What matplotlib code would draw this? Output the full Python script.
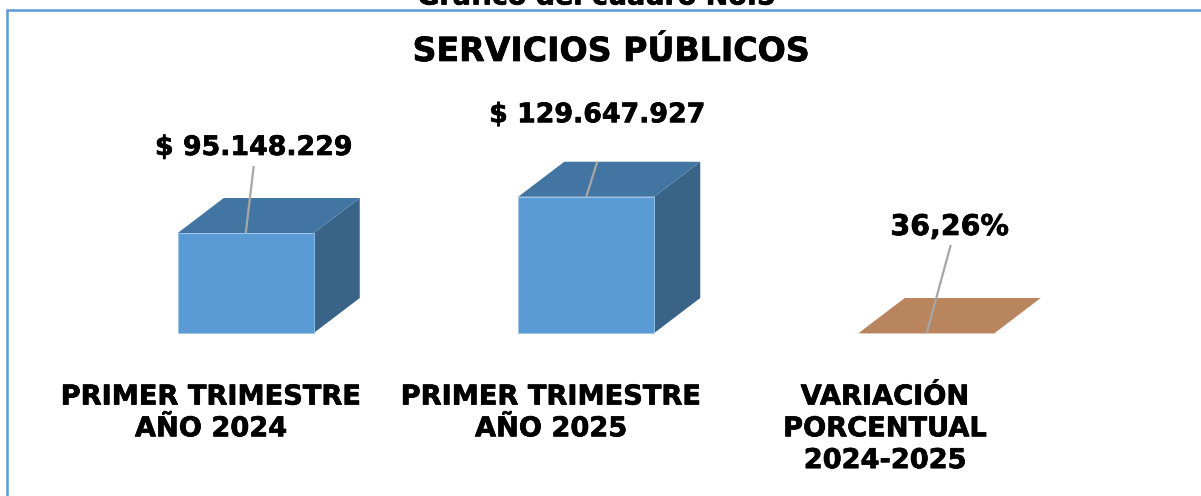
import matplotlib
matplotlib.use("Agg")
import matplotlib.pyplot as plt
from matplotlib.patches import Polygon, Rectangle
import matplotlib.patheffects as pe

W, H = 1201, 496
categories = ["PRIMER TRIMESTRE\nAÑO 2024", "PRIMER TRIMESTRE\nAÑO 2025", "VARIACIÓN\nPORCENTUAL\n2024-2025"]
values = [95148229, 129647927, 36.26]
labels = ["$ 95.148.229", "$ 129.647.927", "36,26%"]
face = ["#5B9BD5", "#5B9BD5", "#B9855F"]
top_c = ["#4375A2", "#4375A2", "#B9855F"]
side_c = ["#396487", "#396487", "#B9855F"]
edge_c = ["#9CC3E6", "#9CC3E6", "#DDBDA5"]

plt.rcParams["font.family"] = ["DejaVu Sans"]
fig = plt.figure(figsize=(W / 100, H / 100), dpi=100)
fig.patch.set_facecolor("white")
heavy = [pe.withStroke(linewidth=0.5, foreground="black")]

def px(x, y):
    return x / W, 1 - y / H

# frame (its right and bottom sides fall outside the picture)
fig.add_artist(Rectangle(px(7, 510), 1500 / W, 500.5 / H, fill=False, ec="#5B9BD5", lw=1.8, clip_on=False))
fig.text(596 / W, 1 - 4.5 / H, "Gráfico del cuadro No.5", ha="center", va="baseline",
         fontsize=19.4, fontweight="bold", path_effects=heavy)

left, right, base, top = 75.5, 1097, 333, 133
ax = fig.add_axes([left / W, 1 - base / H, (right - left) / W, (base - top) / H])
ax.set_xlim(-0.5, 2.5)
ax.set_ylim(0, 200 * 95148229 / 100)
ax.axis("off")
ax.patch.set_alpha(0)

upp_x = 3.0 / (right - left)
upp_y = 95148229 / 100
dx, dy = 46 * upp_x, 35 * upp_y
half = 68 * upp_x

for i, v in enumerate(values):
    l, r = i - half, i + half
    ax.add_patch(Polygon([(r, 0), (r + dx, dy), (r + dx, v + dy), (r, v)], fc=side_c[i], ec="none", clip_on=False))
    ax.add_patch(Polygon([(l, v), (l + dx, v + dy), (r + dx, v + dy), (r, v)], fc=top_c[i], ec="none", clip_on=False))
    ax.add_patch(Rectangle((l, 0), r - l, v, fc=face[i], ec=edge_c[i], lw=0.6, clip_on=False))

# leader lines and data labels
lx = [8 * upp_x, 11 * upp_x, 24 * upp_x]
ly = [67 * upp_y, 35 * upp_y, 88 * upp_y]
tx = [8 * upp_x, 11 * upp_x, 23 * upp_x]
ty = [78 * upp_y, 74.5 * upp_y, 98 * upp_y]
sizes = [19.3, 19.3, 20.5]
for i, v in enumerate(values):
    ax.plot([i, i + lx[i]], [v, v + ly[i]], color="#A6A6A6", lw=1.6, solid_capstyle="butt", clip_on=False)
    ax.text(i + tx[i], v + ty[i], labels[i], ha="center", va="baseline", fontsize=sizes[i],
            fontweight="bold", clip_on=False, path_effects=heavy)

fig.text(610.5 / W, 1 - 61 / H, "SERVICIOS PÚBLICOS", ha="center", va="baseline", fontsize=23.9,
         fontweight="bold", path_effects=heavy)

for i, c in enumerate(categories):
    cx = [211, 551, 885][i]
    fig.text(cx / W, 1 - 384.5 / H, c, ha="center", va="top", fontsize=19.6, fontweight="bold",
             linespacing=1.29, path_effects=heavy)

fig.savefig("out.png", dpi=100)
